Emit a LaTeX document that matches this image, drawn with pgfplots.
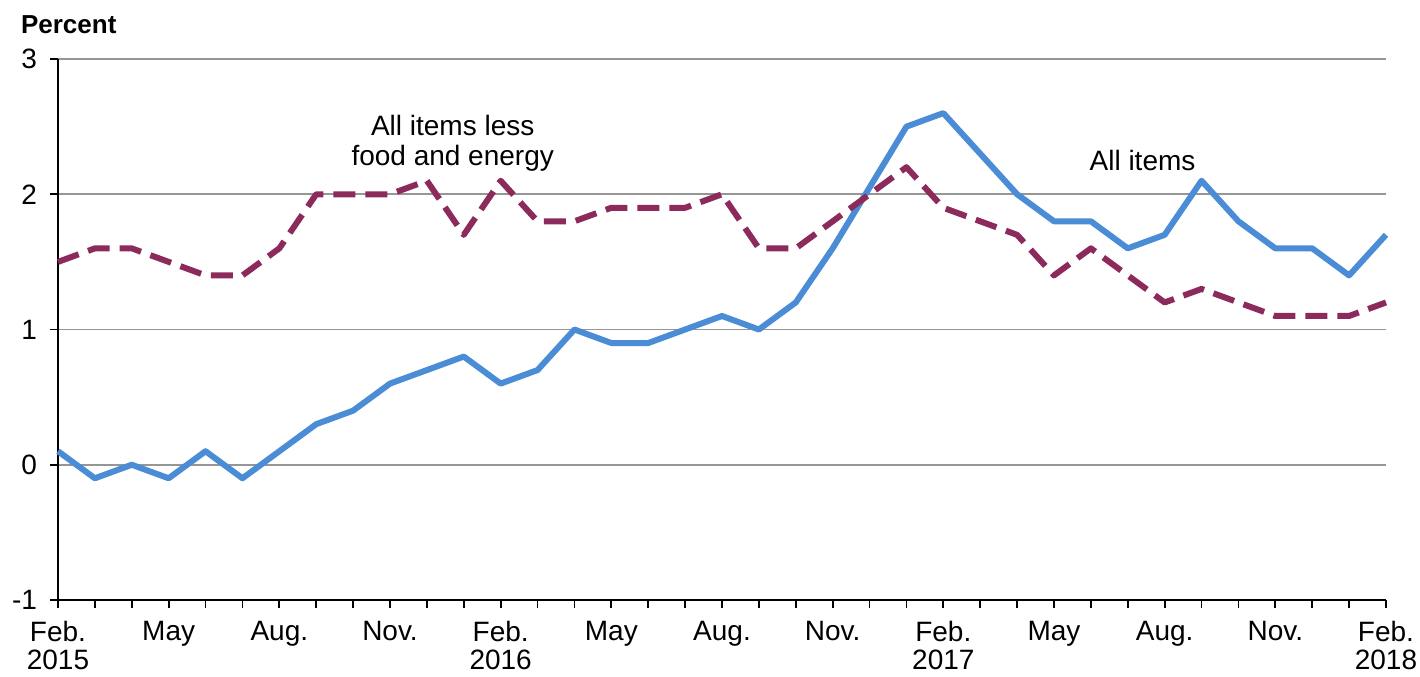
\documentclass[border=0pt]{standalone}
\usepackage{fontspec}
\setmainfont{Liberation Sans}
\usepackage{pgfplots}
\pgfplotsset{compat=1.18}
\definecolor{allblue}{RGB}{74,140,214}
\definecolor{coremaroon}{RGB}{140,42,92}
\definecolor{gridgray}{RGB}{150,150,150}

\pgfplotstableread{
m allitems core
0  0.1 1.5
1 -0.1 1.6
2  0.0 1.6
3 -0.1 1.5
4  0.1 1.4
5 -0.1 1.4
6  0.1 1.6
7  0.3 2.0
8  0.4 2.0
9  0.6 2.0
10 0.7 2.1
11 0.8 1.7
12 0.6 2.1
13 0.7 1.8
14 1.0 1.8
15 0.9 1.9
16 0.9 1.9
17 1.0 1.9
18 1.1 2.0
19 1.0 1.6
20 1.2 1.6
21 1.6 1.8
22 2.05 2.0
23 2.5 2.2
24 2.6 1.9
25 2.3 1.8
26 2.0 1.7
27 1.8 1.4
28 1.8 1.6
29 1.6 1.4
30 1.7 1.2
31 2.1 1.3
32 1.8 1.2
33 1.6 1.1
34 1.6 1.1
35 1.4 1.1
36 1.7 1.2
}\datatable

\begin{document}
\begin{tikzpicture}[font=\fontsize{14}{15}\selectfont]
\useasboundingbox (-29pt,-38pt) rectangle (681pt,300pt);
\begin{axis}[
  scale only axis, width=664pt, height=270.5pt,
  at={(0,0)}, anchor=south west,
  xmin=0, xmax=36, ymin=-1, ymax=3,
  axis x line=bottom, axis y line=left,
  axis line style={-, black, line width=1pt},
  tick align=outside,
  major tick length=4pt, minor tick length=4pt,
  tick style={black, line width=0.9pt},
  xtick={0,3,...,36}, minor xtick={0,...,36},
  xticklabels={{Feb.\\2015},May,Aug.,Nov.,{Feb.\\2016},May,Aug.,Nov.,{Feb.\\2017},May,Aug.,Nov.,{Feb.\\2018}},
  xticklabel style={align=center, anchor=north, yshift=-3pt, font=\fontsize{14}{14}\selectfont},
  ytick={-1,0,1,2,3}, yticklabels={-1,0,1,2,3},
  yticklabel style={xshift=-3pt},
  ymajorgrids, grid style={gridgray, line width=0.8pt},
  clip=false,
]
\addplot[allblue, line width=3pt, line join=round] table[x=m, y=allitems] {\datatable};
\addplot[coremaroon, line width=3pt, dash pattern=on 11pt off 5pt, line join=round] table[x=m, y=core] {\datatable};
\node[align=center] at (axis cs:10.7,2.38) {All items less\\food and energy};
\node at (axis cs:29.4,2.25) {All items};
\end{axis}
\node[anchor=base west, font=\fontsize{13}{15}\selectfont\bfseries] at (-22pt,283pt) {Percent};
\end{tikzpicture}
\end{document}
